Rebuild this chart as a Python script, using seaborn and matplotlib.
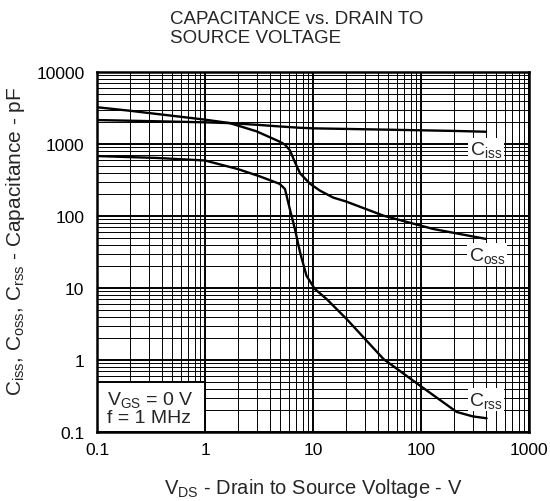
import matplotlib
matplotlib.use("Agg")
import matplotlib.pyplot as plt
import seaborn as sns
import pandas as pd
from matplotlib.patches import Rectangle
from matplotlib.ticker import FixedLocator, LogLocator, NullFormatter

# ---- data ----
ciss_v = [0.1, 0.3, 1, 1.7, 3, 5, 7.6, 10, 20, 50, 100, 200, 400]
ciss_c = [2150, 2080, 2000, 1950, 1850, 1750, 1680, 1650, 1620, 1580, 1550, 1520, 1480]

coss_v = [0.1, 0.2, 0.36, 1, 1.7, 3, 4.9, 5.5, 6.1, 6.8, 7.6, 9.4, 11.6, 15.4, 20, 45, 130, 400]
coss_c = [3240, 2900, 2610, 2180, 1950, 1500, 1080, 980, 820, 560, 390, 280, 225, 180, 160, 101, 66, 48]

crss_v = [0.1, 0.36, 1, 2, 3.2, 4.9, 5.5, 6.1, 6.8, 7.6, 8.7, 10.4, 13.4, 20.5, 45, 98, 214, 300, 405]
crss_c = [680, 640, 590, 450, 356, 280, 237, 125, 66, 31, 14.8, 9.7, 7.0, 3.7, 1.03, 0.44, 0.19, 0.165, 0.155]

x_ticks = [0.1, 1, 10, 100, 1000]
x_ticklabels = ["0.1", "1", "10", "100", "1000"]
y_ticks = [0.1, 1, 10, 100, 1000, 10000]
y_ticklabels = ["0.1", "1", "10", "100", "1000", "10000"]

series_names = ["Ciss", "Coss", "Crss"]
series_labels = [r"$\mathregular{C_{iss}}$", r"$\mathregular{C_{oss}}$", r"$\mathregular{C_{rss}}$"]
label_pos = [(400, 850), (410, 29), (400, 0.28)]

title_text = "CAPACITANCE vs. DRAIN TO\nSOURCE VOLTAGE"
xlabel_text = r"$\mathregular{V_{DS}}$ - Drain to Source Voltage - V"
ylabel_text = r"$\mathregular{C_{iss}}$, $\mathregular{C_{oss}}$, $\mathregular{C_{rss}}$ - Capacitance - pF"
cond_text = "$\\mathregular{V_{GS}}$ = 0 V\nf = 1 MHz"

df = pd.concat([
    pd.DataFrame({"V": ciss_v, "C": ciss_c, "series": "Ciss"}),
    pd.DataFrame({"V": coss_v, "C": coss_c, "series": "Coss"}),
    pd.DataFrame({"V": crss_v, "C": crss_c, "series": "Crss"}),
])

sns.set_style("white")
plt.rcParams["font.family"] = ["Liberation Sans", "DejaVu Sans"]
plt.rcParams["mathtext.fontset"] = "custom"
plt.rcParams["mathtext.rm"] = "Liberation Sans"
plt.rcParams["mathtext.it"] = "Liberation Sans:italic"
plt.rcParams["mathtext.bf"] = "Liberation Sans:bold"

fig = plt.figure(figsize=(5.5, 5.02), dpi=100)
ax = fig.add_axes([97 / 550, 1 - 433 / 502, 432 / 550, 360 / 502])

sns.lineplot(data=df, x="V", y="C", hue="series", hue_order=series_names,
             palette=["black"] * 3, linewidth=1.7, legend=False, ax=ax,
             estimator=None, sort=False, zorder=5)

ax.set_xscale("log")
ax.set_yscale("log")
ax.set_xlim(0.1, 1000)
ax.set_ylim(0.1, 10000)

ax.xaxis.set_major_locator(FixedLocator(x_ticks))
ax.set_xticklabels(x_ticklabels)
ax.yaxis.set_major_locator(FixedLocator(y_ticks))
ax.set_yticklabels(y_ticklabels)
ax.xaxis.set_minor_locator(LogLocator(base=10, subs=range(2, 10), numticks=20))
ax.yaxis.set_minor_locator(LogLocator(base=10, subs=range(2, 10), numticks=20))
ax.xaxis.set_minor_formatter(NullFormatter())
ax.yaxis.set_minor_formatter(NullFormatter())
ax.tick_params(which="both", length=0)
ax.tick_params(axis="both", which="major", labelsize=12.5, colors="black")
ax.tick_params(axis="x", which="major", pad=7)
ax.tick_params(axis="y", which="major", pad=9)

ax.grid(True, which="major", color="black", linewidth=1.4)
ax.grid(True, which="minor", color="black", linewidth=0.7)
ax.set_axisbelow(True)
for s in ax.spines.values():
    s.set_visible(True)
    s.set_color("black")
    s.set_linewidth(1.8)
    s.set_zorder(10)

for lab, (xv, yv) in zip(series_labels, label_pos):
    ax.text(xv, yv, lab, fontsize=14, ha="center", va="center", zorder=8,
            bbox=dict(facecolor="white", edgecolor="none", pad=1.0))

ax.add_patch(Rectangle((0, 0), 0.25, 50 / 360, transform=ax.transAxes,
                       facecolor="white", edgecolor="black", linewidth=1.4, zorder=7))
ax.text(0.023, 0.068, cond_text, transform=ax.transAxes, fontsize=14,
        ha="left", va="center", zorder=8, linespacing=1.0)

ax.set_xlabel(xlabel_text, fontsize=14.5)
ax.set_ylabel(ylabel_text, fontsize=15)
ax.xaxis.set_label_coords(0.5, -0.122)
ax.yaxis.set_label_coords(-0.162, 0.532)

fig.text(170 / 550, 1 - 11 / 502, title_text, fontsize=13.5, ha="left", va="top",
         linespacing=1.15)

fig.savefig("out.png", dpi=100, facecolor="white")
